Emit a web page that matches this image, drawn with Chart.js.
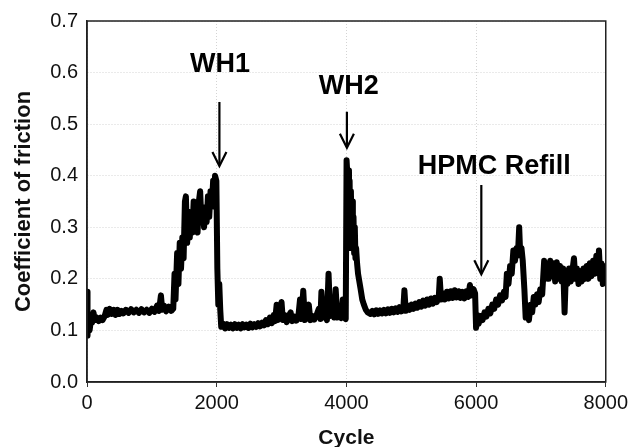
<!DOCTYPE html>
<html><head><meta charset="utf-8">
<script src="https://cdn.jsdelivr.net/npm/chart.js@4/dist/chart.umd.min.js"></script>
<style>html,body{margin:0;padding:0;background:#fff}#wrap{width:632px;height:447px}</style>
</head><body><div id="wrap"><canvas id="c" width="632" height="447"></canvas></div>
<script>
const cycles = [0,8,20,40,60,80,100,120,150,180,210,240,270,300,320,350,380,410,440,470,500,530,560,600,640,680,720,760,800,840,880,920,960,1000,1040,1080,1110,1140,1160,1190,1220,1260,1300,1330,1350,1365,1390,1410,1430,1450,1470,1490,1510,1525,1545,1565,1585,1605,1625,1645,1665,1685,1705,1725,1745,1765,1785,1805,1825,1845,1865,1885,1905,1925,1945,1960,1975,1995,2010,2025,2040,2055,2070,2100,2130,2160,2190,2220,2250,2280,2310,2340,2370,2400,2430,2460,2490,2520,2550,2580,2610,2640,2670,2700,2730,2760,2790,2820,2850,2880,2900,2925,2945,2970,3000,3020,3050,3080,3110,3140,3165,3200,3230,3260,3285,3305,3335,3360,3390,3420,3445,3475,3505,3540,3575,3600,3615,3640,3670,3700,3725,3750,3780,3810,3835,3860,3890,3920,3945,3965,3990,4003,4012,4020,4030,4040,4050,4060,4070,4080,4090,4100,4110,4120,4130,4140,4150,4165,4180,4200,4220,4245,4270,4300,4330,4370,4400,4430,4460,4490,4520,4550,4580,4610,4640,4670,4700,4730,4760,4790,4820,4850,4880,4895,4915,4945,4975,5005,5035,5065,5095,5125,5155,5185,5215,5245,5275,5305,5335,5365,5395,5425,5440,5460,5490,5520,5550,5580,5610,5640,5670,5700,5730,5760,5790,5820,5850,5880,5905,5930,5960,5985,6000,6020,6040,6070,6100,6130,6160,6190,6220,6250,6280,6310,6340,6370,6400,6430,6455,6475,6500,6525,6550,6575,6600,6625,6645,6665,6680,6700,6720,6745,6765,6790,6815,6840,6865,6890,6915,6940,6965,6990,7020,7050,7070,7095,7120,7145,7170,7195,7220,7245,7270,7295,7320,7345,7365,7385,7410,7435,7460,7485,7510,7530,7555,7580,7605,7630,7655,7680,7705,7730,7755,7780,7805,7830,7855,7875,7895,7915,7935,7955,7975,8000];
const friction = [0.175,0.09,0.125,0.10,0.12,0.115,0.135,0.12,0.125,0.118,0.125,0.12,0.127,0.14,0.13,0.142,0.132,0.14,0.13,0.14,0.132,0.138,0.133,0.14,0.134,0.141,0.135,0.14,0.134,0.141,0.135,0.14,0.134,0.142,0.136,0.148,0.138,0.168,0.14,0.148,0.137,0.146,0.138,0.142,0.21,0.16,0.25,0.19,0.27,0.22,0.28,0.24,0.35,0.36,0.27,0.33,0.28,0.32,0.29,0.35,0.30,0.33,0.29,0.35,0.37,0.31,0.34,0.30,0.33,0.31,0.36,0.32,0.37,0.34,0.39,0.37,0.40,0.39,0.22,0.15,0.19,0.14,0.107,0.113,0.104,0.112,0.105,0.111,0.104,0.112,0.105,0.111,0.104,0.112,0.106,0.111,0.105,0.113,0.106,0.112,0.107,0.114,0.108,0.115,0.11,0.12,0.112,0.125,0.114,0.13,0.118,0.15,0.12,0.132,0.155,0.12,0.13,0.116,0.128,0.135,0.118,0.127,0.119,0.128,0.16,0.122,0.177,0.12,0.132,0.15,0.12,0.128,0.121,0.13,0.142,0.122,0.175,0.125,0.133,0.12,0.21,0.128,0.14,0.125,0.18,0.125,0.135,0.124,0.16,0.125,0.122,0.43,0.41,0.27,0.41,0.26,0.39,0.27,0.37,0.26,0.35,0.26,0.32,0.25,0.30,0.24,0.26,0.23,0.21,0.195,0.18,0.16,0.15,0.14,0.135,0.132,0.138,0.131,0.139,0.132,0.139,0.133,0.14,0.133,0.141,0.134,0.142,0.135,0.143,0.136,0.145,0.137,0.146,0.178,0.138,0.148,0.14,0.15,0.142,0.152,0.144,0.155,0.146,0.158,0.148,0.16,0.15,0.162,0.152,0.163,0.155,0.165,0.2,0.16,0.172,0.16,0.175,0.162,0.176,0.163,0.178,0.164,0.176,0.163,0.175,0.162,0.176,0.165,0.188,0.168,0.18,0.172,0.105,0.13,0.113,0.128,0.12,0.135,0.127,0.142,0.133,0.15,0.142,0.16,0.15,0.168,0.158,0.175,0.165,0.21,0.19,0.225,0.21,0.255,0.235,0.26,0.245,0.30,0.25,0.26,0.235,0.18,0.125,0.14,0.12,0.15,0.135,0.165,0.15,0.17,0.155,0.18,0.17,0.235,0.2,0.23,0.2,0.235,0.205,0.23,0.195,0.232,0.2,0.225,0.195,0.22,0.135,0.21,0.19,0.22,0.195,0.215,0.24,0.2,0.22,0.19,0.215,0.195,0.22,0.2,0.225,0.2,0.23,0.205,0.235,0.21,0.245,0.215,0.255,0.2,0.23,0.19,0.225,0.2];

const xTicks = [0,2000,4000,6000,8000];
const yTicks = [0,0.1,0.2,0.3,0.4,0.5,0.6,0.7];

const noteLabels = ['WH1','WH2','HPMC Refill'];
const noteTextCycle = [2050,4038,6280];
const noteTextCof = [0.615,0.572,0.418];
const noteArrowCycle = [2042,4008,6081];
const noteArrowFrom = [0.543,0.524,0.382];
const noteArrowTo = [0.419,0.454,0.209];

const points = cycles.map((c,i)=>({x:c,y:friction[i]}));

const framePlugin = {
  id:'frame',
  afterDatasetsDraw(chart){
    const {ctx, chartArea:a, scales:{x,y}} = chart;
    ctx.save();
    ctx.strokeStyle='#222'; ctx.lineWidth=1.5;
    ctx.strokeRect(a.left,a.top,a.right-a.left,a.bottom-a.top);
    ctx.fillStyle='#000'; ctx.strokeStyle='#000';
    ctx.font='bold 27px "Liberation Sans", Arial, sans-serif';
    ctx.textAlign='center'; ctx.textBaseline='middle';
    noteLabels.forEach((t,i)=>{
      ctx.fillText(t, x.getPixelForValue(noteTextCycle[i]), y.getPixelForValue(noteTextCof[i]));
      const ax = x.getPixelForValue(noteArrowCycle[i]);
      const y1 = y.getPixelForValue(noteArrowFrom[i]);
      const y2 = y.getPixelForValue(noteArrowTo[i]);
      ctx.lineWidth=2.2;
      ctx.beginPath(); ctx.moveTo(ax,y1); ctx.lineTo(ax,y2-1); ctx.stroke();
      ctx.beginPath(); ctx.moveTo(ax-7,y2-14); ctx.lineTo(ax,y2); ctx.lineTo(ax+7,y2-14); ctx.stroke();
    });
    ctx.restore();
  }
};

new Chart(document.getElementById('c'),{
  type:'line',
  data:{datasets:[{data:points,borderColor:'#000',borderWidth:6,pointRadius:0,tension:0,fill:false,borderJoinStyle:'round',borderCapStyle:'round'}]},
  options:{
    responsive:false,animation:false,
    layout:{padding:{left:0,right:24,top:21,bottom:0}},
    plugins:{legend:{display:false},tooltip:{enabled:false}},
    scales:{
      x:{type:'linear',min:0,max:8000,
        afterBuildTicks(s){s.ticks=xTicks.map(v=>({value:v}));},
        afterFit(s){s.height=65;},
        grid:{color:'#d4d4d4',lineWidth:1,tickLength:5,tickColor:'#333',drawTicks:true},
        border:{color:'#222',width:1.5,dash:[1,2]},
        ticks:{color:'#111',font:{family:'"Liberation Sans", Arial, sans-serif',size:20},padding:4,maxRotation:0,callback:v=>String(v)},
        title:{display:true,text:'Cycle',color:'#111',font:{family:'"Liberation Sans", Arial, sans-serif',size:21,weight:'bold',lineHeight:0.85},padding:0}
      },
      y:{type:'linear',min:0,max:0.7,
        afterBuildTicks(s){s.ticks=yTicks.map(v=>({value:v}));},
        afterFit(s){s.width=87;},
        grid:{color:'#d4d4d4',lineWidth:1,drawTicks:false},
        border:{color:'#222',width:1.5,dash:[1,2]},
        ticks:{color:'#111',font:{family:'"Liberation Sans", Arial, sans-serif',size:20},padding:9,callback:v=>v.toFixed(1)},
        title:{display:true,text:'Coefficient of friction',color:'#111',font:{family:'"Liberation Sans", Arial, sans-serif',size:22,weight:'bold',lineHeight:1.2},padding:{top:11,bottom:0}}
      }
    }
  },
  plugins:[framePlugin]
});
</script></body></html>
